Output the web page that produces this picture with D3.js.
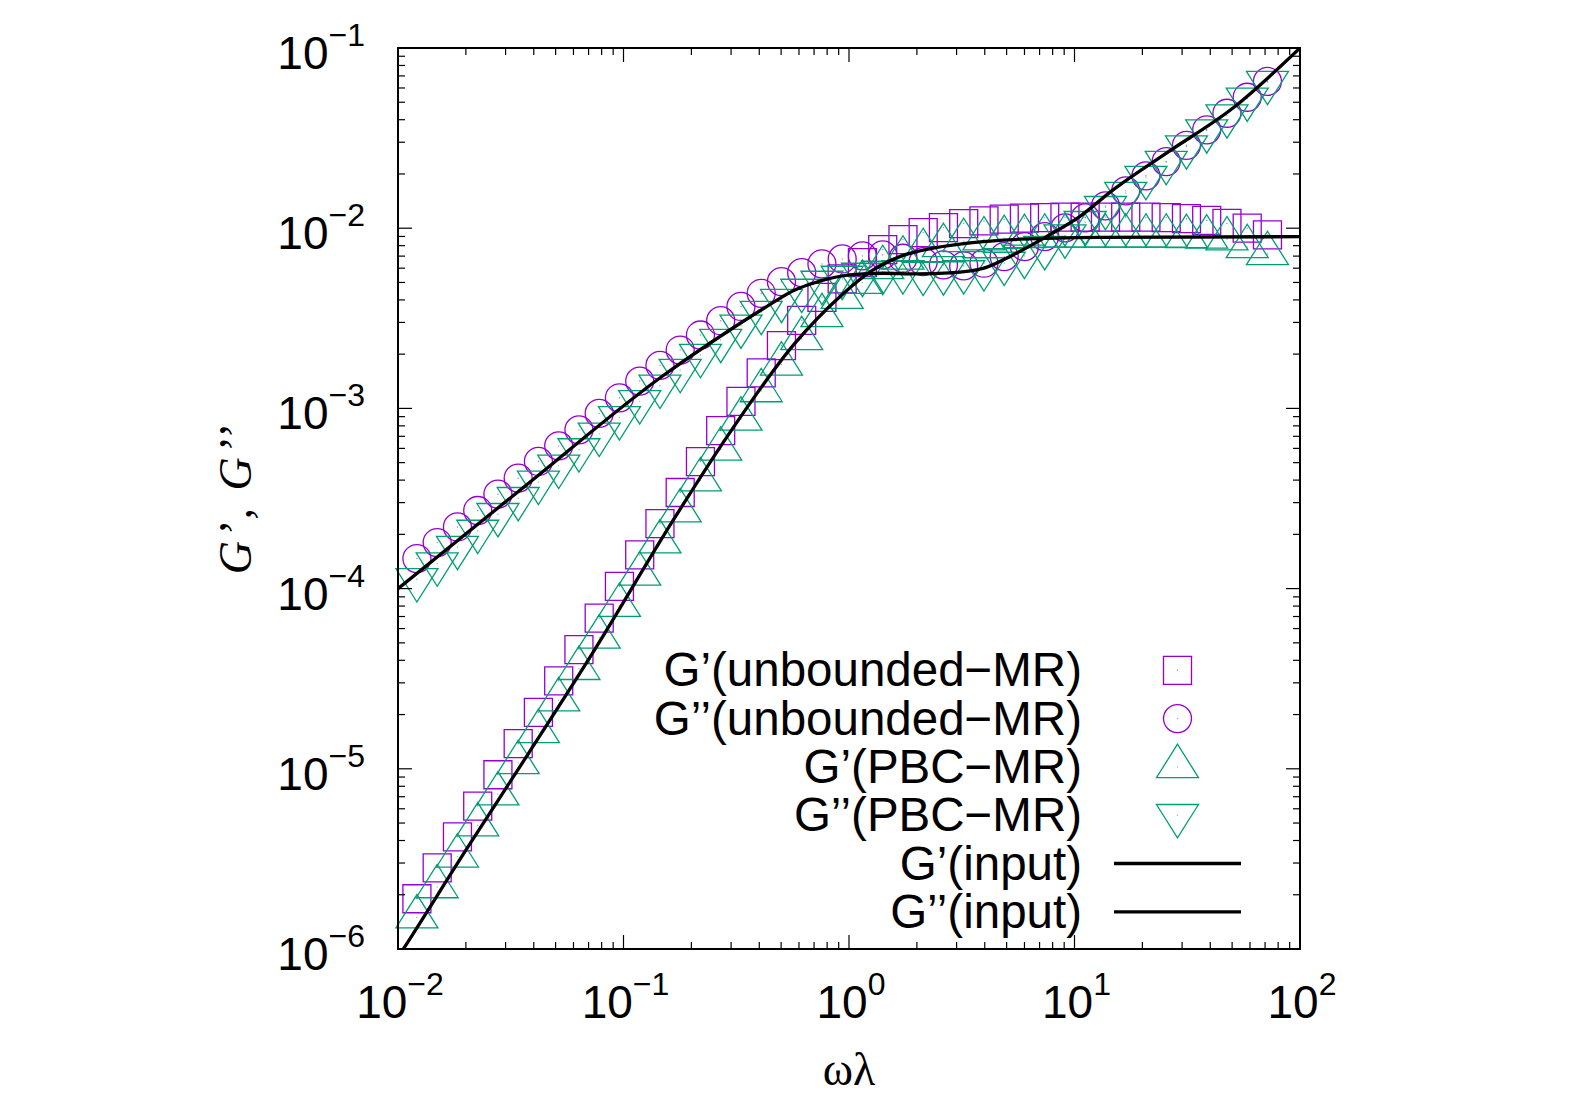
<!DOCTYPE html>
<html>
<head>
<meta charset="utf-8">
<script src="https://cdn.jsdelivr.net/npm/d3@7"></script>
<style>
body { margin: 0; background: #fff; }
svg { display: block; }
</style>
</head>
<body>
<div id="chart"></div>
<script>
// frequencies of the simulated points (omega * lambda)
const omega = [0.01213, 0.01492, 0.01835, 0.02257, 0.02774, 0.03412, 0.04195, 0.05160, 0.06345, 0.07802,
	0.09594, 0.1180, 0.1451, 0.1784, 0.2194, 0.2698, 0.3318, 0.4080, 0.5017, 0.6169,
	0.7586, 0.9329, 1.147, 1.411, 1.735, 2.133, 2.623, 3.226, 3.967, 4.878,
	5.998, 7.376, 9.071, 11.15, 13.72, 16.87, 20.74, 25.51, 31.37, 38.57,
	47.43, 58.33, 71.73];

const gpUnbounded = [1.90e-6, 2.82e-6, 4.19e-6, 6.21e-6, 9.27e-6, 1.378e-5, 2.055e-5, 3.074e-5, 4.587e-5, 6.866e-5,
	1.030e-4, 1.537e-4, 2.291e-4, 3.415e-4, 5.063e-4, 7.53e-4, 1.095e-3, 1.575e-3, 2.233e-3, 3.083e-3,
	4.136e-3, 5.228e-3, 6.44e-3, 7.605e-3, 8.644e-3, 9.454e-3, 1.008e-2, 1.061e-2, 1.098e-2, 1.122e-2,
	1.137e-2, 1.145e-2, 1.151e-2, 1.151e-2, 1.151e-2, 1.151e-2, 1.151e-2, 1.145e-2, 1.129e-2, 1.105e-2,
	1.063e-2, 1.0e-2, 9.18e-3];

const gppUnbounded = [1.468e-4, 1.801e-4, 2.198e-4, 2.712e-4, 3.342e-4, 4.10e-4, 5.077e-4, 6.198e-4, 7.605e-4, 9.38e-4,
	1.145e-3, 1.418e-3, 1.733e-3, 2.108e-3, 2.554e-3, 3.067e-3, 3.679e-3, 4.353e-3, 5.05e-3, 5.666e-3,
	6.335e-3, 6.752e-3, 7.017e-3, 7.108e-3, 6.813e-3, 6.523e-3, 6.254e-3, 6.175e-3, 6.392e-3, 6.955e-3,
	7.902e-3, 8.98e-3, 1.004e-2, 1.141e-2, 1.33e-2, 1.612e-2, 1.953e-2, 2.344e-2, 2.884e-2, 3.516e-2,
	4.343e-2, 5.328e-2, 6.524e-2];

const gpPBC = [1.50e-6, 2.207e-6, 3.268e-6, 4.861e-6, 7.225e-6, 1.078e-5, 1.603e-5, 2.405e-5, 3.589e-5, 5.363e-5,
	8.035e-5, 1.20e-4, 1.808e-4, 2.688e-4, 3.996e-4, 5.919e-4, 8.687e-4, 1.248e-3, 1.755e-3, 2.427e-3,
	3.256e-3, 4.115e-3, 4.987e-3, 6.018e-3, 6.796e-3, 7.48e-3, 7.974e-3, 8.50e-3, 8.687e-3, 8.833e-3,
	8.946e-3, 9.0e-3, 9.0e-3, 9.0e-3, 9.0e-3, 9.0e-3, 9.0e-3, 9.0e-3, 8.946e-3, 8.89e-3,
	8.687e-3, 7.872e-3, 7.198e-3];

const gppPBC = [1.126e-4, 1.377e-4, 1.702e-4, 2.089e-4, 2.587e-4, 3.174e-4, 3.91e-4, 4.80e-4, 5.919e-4, 7.225e-4,
	8.913e-4, 1.094e-3, 1.335e-3, 1.632e-3, 1.977e-3, 2.396e-3, 2.876e-3, 3.428e-3, 3.996e-3, 4.543e-3,
	5.031e-3, 5.363e-3, 5.573e-3, 5.717e-3, 5.754e-3, 5.645e-3, 5.68e-3, 5.754e-3, 5.98e-3, 6.415e-3,
	7.017e-3, 7.842e-3, 9.097e-3, 1.08e-2, 1.308e-2, 1.565e-2, 1.92e-2, 2.326e-2, 2.84e-2, 3.485e-2,
	4.222e-2, 5.228e-2, 6.475e-2];

// input moduli (solid lines)
const inputOmegaGp = [0.01, 0.01056, 0.02016, 0.03781, 0.07467, 0.1661, 0.2911, 0.5751, 0.9104, 1.279,
	1.68, 2.359, 3.93, 5.715, 12.93, 100];
const inputGp = [9.0e-7, 1e-6, 3.594e-6, 1.211e-5, 4.6e-5, 2.396e-4, 7.11e-4, 2.297e-3, 4.169e-3, 5.867e-3,
	6.955e-3, 7.743e-3, 8.425e-3, 8.687e-3, 8.89e-3, 8.98e-3];

const inputOmegaGpp = [0.01, 0.03781, 0.1475, 0.2962, 0.4309, 0.5751, 0.6933, 1.008, 1.416, 1.992,
	2.798, 3.93, 5.338, 7.509, 10.54, 14.82, 25.55, 50.42, 100];
const inputGpp = [1e-4, 3.831e-4, 1.498e-3, 2.723e-3, 3.668e-3, 4.543e-3, 4.949e-3, 5.502e-3, 5.623e-3, 5.573e-3,
	5.645e-3, 5.98e-3, 7.108e-3, 8.98e-3, 1.16e-2, 1.632e-2, 2.61e-2, 4.642e-2, 0.1];

const seriesNames = ["G\u2019(unbounded\u2212MR)", "G\u2019\u2019(unbounded\u2212MR)", "G\u2019(PBC\u2212MR)",
	"G\u2019\u2019(PBC\u2212MR)", "G\u2019(input)", "G\u2019\u2019(input)"];
const xTickPowers = [-2, -1, 0, 1, 2];
const yTickPowers = [-6, -5, -4, -3, -2, -1];

const purple = "#9400d3";
const green = "#009e73";
const sansFont = "'Liberation Sans', Arial, Helvetica, sans-serif";
const serifFont = "'Liberation Serif', 'Times New Roman', serif";

let width = 1578, height = 1104;
let plotLeft = 398, plotRight = 1300, plotTop = 48, plotBottom = 949;

let svg = d3.select("#chart").append("svg")
	.attr("width", width)
	.attr("height", height);

let x = d3.scaleLog().domain([0.01, 100]).range([plotLeft, plotRight]);
let y = d3.scaleLog().domain([1e-6, 0.1]).range([plotBottom, plotTop]);

svg.append("clipPath").attr("id", "plotclip")
	.append("rect")
	.attr("x", plotLeft).attr("y", plotTop)
	.attr("width", plotRight - plotLeft).attr("height", plotBottom - plotTop);

// marker shapes
function squarePath(cx, cy) {
	return `M${cx - 14},${cy - 14}h28v28h-28Z`;
}
function circlePath(cx, cy) {
	return `M${cx + 14},${cy}A14,14 0 1,1 ${cx - 14},${cy}A14,14 0 1,1 ${cx + 14},${cy}Z`;
}
function triUpPath(cx, cy) {
	return `M${cx},${cy - 22.7}L${cx - 21},${cy + 10.7}L${cx + 21},${cy + 10.7}Z`;
}
function triDownPath(cx, cy) {
	return `M${cx},${cy + 22.7}L${cx - 21},${cy - 10.7}L${cx + 21},${cy - 10.7}Z`;
}

let pointSeries = [
	{ values: gpUnbounded, color: purple, shape: squarePath },
	{ values: gppUnbounded, color: purple, shape: circlePath },
	{ values: gpPBC, color: green, shape: triUpPath },
	{ values: gppPBC, color: green, shape: triDownPath }
];

pointSeries.forEach(s => {
	let g = svg.append("g");
	let pts = omega.map((w, i) => ({ w: w, v: s.values[i] }));
	g.selectAll("path")
		.data(pts)
		.enter().append("path")
		.attr("d", d => s.shape(x(d.w), y(d.v)))
		.attr("fill", "none")
		.attr("stroke", s.color)
		.attr("stroke-width", 1.3);
	g.selectAll("circle")
		.data(pts)
		.enter().append("circle")
		.attr("cx", d => x(d.w))
		.attr("cy", d => y(d.v))
		.attr("r", 0.7)
		.attr("fill", s.color)
		.attr("opacity", 0.6);
});

// input lines
let line = d3.line()
	.x(d => x(d[0]))
	.y(d => y(d[1]))
	.curve(d3.curveMonotoneX);

[[inputOmegaGp, inputGp], [inputOmegaGpp, inputGpp]].forEach(pair => {
	svg.append("path")
		.datum(pair[0].map((w, i) => [w, pair[1][i]]))
		.attr("clip-path", "url(#plotclip)")
		.attr("d", line)
		.attr("fill", "none")
		.attr("stroke", "black")
		.attr("stroke-width", 3.3);
});

// ticks on all four sides
let axisG = svg.append("g").attr("stroke", "black").attr("stroke-width", 1.2);
x.ticks().forEach(t => {
	let major = Math.abs(Math.log10(t) - Math.round(Math.log10(t))) < 1e-9;
	let len = major ? 14 : 7;
	let px = x(t);
	axisG.append("line").attr("x1", px).attr("x2", px).attr("y1", plotBottom).attr("y2", plotBottom - len);
	axisG.append("line").attr("x1", px).attr("x2", px).attr("y1", plotTop).attr("y2", plotTop + len);
});
y.ticks().forEach(t => {
	let major = Math.abs(Math.log10(t) - Math.round(Math.log10(t))) < 1e-9;
	let len = major ? 14 : 7;
	let py = y(t);
	axisG.append("line").attr("x1", plotLeft).attr("x2", plotLeft + len).attr("y1", py).attr("y2", py);
	axisG.append("line").attr("x1", plotRight).attr("x2", plotRight - len).attr("y1", py).attr("y2", py);
});

svg.append("rect")
	.attr("x", plotLeft).attr("y", plotTop)
	.attr("width", plotRight - plotLeft).attr("height", plotBottom - plotTop)
	.attr("fill", "none")
	.attr("stroke", "black")
	.attr("stroke-width", 2);

function expText(p) {
	return (p < 0 ? "\u2212" : "") + Math.abs(p);
}

// tick labels
yTickPowers.forEach(p => {
	let t = svg.append("text")
		.attr("x", 365)
		.attr("y", y(Math.pow(10, p)) + 21)
		.attr("text-anchor", "end")
		.attr("font-family", sansFont)
		.attr("font-size", 46);
	t.append("tspan").text("10");
	t.append("tspan").attr("dy", -23).attr("font-size", 32).text(expText(p));
});
xTickPowers.forEach(p => {
	let t = svg.append("text")
		.attr("x", x(Math.pow(10, p)) + 2)
		.attr("y", 1018)
		.attr("text-anchor", "middle")
		.attr("font-family", sansFont)
		.attr("font-size", 46);
	t.append("tspan").text("10");
	t.append("tspan").attr("dy", -23).attr("font-size", 32).text(expText(p));
});

// axis titles
svg.append("text")
	.attr("x", (plotLeft + plotRight) / 2)
	.attr("y", 1085)
	.attr("text-anchor", "middle")
	.attr("font-family", serifFont)
	.attr("font-size", 46)
	.text("\u03c9\u03bb");

svg.append("text")
	.attr("transform", `translate(251,${(plotTop + plotBottom) / 2}) rotate(-90)`)
	.attr("text-anchor", "middle")
	.attr("font-family", serifFont)
	.attr("font-style", "italic")
	.attr("font-size", 46)
	.attr("letter-spacing", 3)
	.text("G\u2019, G\u2019\u2019");

// legend
let legendRow0 = 670.3, legendStep = 48.3;
let legendShapes = [squarePath, circlePath, triUpPath, triDownPath];
let legendColors = [purple, purple, green, green];
seriesNames.forEach((name, i) => {
	let cy = legendRow0 + i * legendStep;
	svg.append("text")
		.attr("x", 1082)
		.attr("y", cy + 16)
		.attr("text-anchor", "end")
		.attr("font-family", sansFont)
		.attr("font-size", 47.5)
		.text(name);
	if (i < 4) {
		svg.append("path")
			.attr("d", legendShapes[i](1177.5, cy))
			.attr("fill", "none")
			.attr("stroke", legendColors[i])
			.attr("stroke-width", 1.3);
		svg.append("circle")
			.attr("cx", 1177.5).attr("cy", cy).attr("r", 0.7)
			.attr("fill", legendColors[i]).attr("opacity", 0.6);
	} else {
		svg.append("line")
			.attr("x1", 1114).attr("x2", 1241)
			.attr("y1", cy).attr("y2", cy)
			.attr("stroke", "black")
			.attr("stroke-width", 3.3);
	}
});
</script>
</body>
</html>
